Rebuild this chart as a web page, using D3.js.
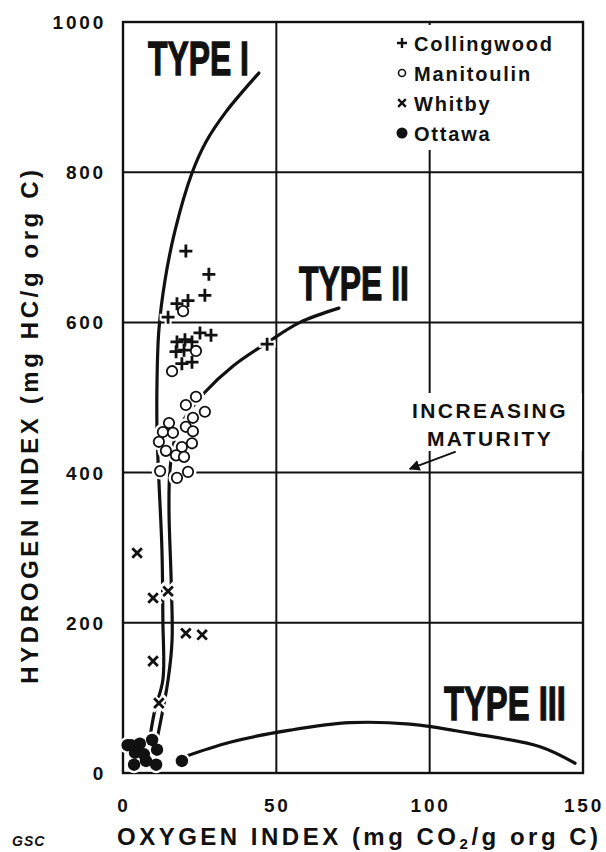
<!DOCTYPE html>
<html><head><meta charset="utf-8">
<script src="https://cdn.jsdelivr.net/npm/d3@7"></script>
<style>
html,body{margin:0;padding:0;background:#fff;}
svg{display:block;font-family:"Liberation Sans",Arial,Helvetica,sans-serif;}
</style></head><body>
<svg id="chart" width="606" height="852"></svg>
<script>
// Axis ticks
const xTicks = [0, 50, 100, 150];
const yTicks = [0, 200, 400, 600, 800, 1000];

// Samples: oxygen index (OI) and hydrogen index (HI)
const collingwoodOI = [20.5, 28.0, 26.7, 21.2, 17.6, 14.7, 25.1, 28.7, 17.6, 20.2, 22.5, 17.3, 19.9, 19.2, 22.5, 47.0];
const collingwoodHI = [695, 664, 636, 629, 625, 607, 586, 583, 574, 577, 574, 561, 563, 545, 547, 571];

const manitoulinOI = [19.6, 23.8, 16.0, 23.8, 20.5, 26.7, 22.8, 20.5, 22.8, 15.0, 13.0, 16.3, 11.7, 19.2, 22.5, 14.0, 17.3, 19.9, 12.1, 21.2, 17.6];
const manitoulinHI = [615, 562, 535, 501, 490, 481, 473, 461, 455, 466, 454, 453, 441, 434, 439, 429, 423, 421, 402, 401, 393];

const whitbyOI = [4.6, 9.8, 14.7, 20.5, 25.8, 9.8, 11.7];
const whitbyHI = [293, 233, 242, 186, 184, 149, 93];

const ottawaOI = [1.5, 2.6, 5.5, 9.5, 3.9, 6.8, 11.1, 3.6, 7.5, 10.8, 19.2];
const ottawaHI = [37, 37, 39, 44, 27, 25, 31, 11, 16, 11, 16];

// Kerogen evolution paths
const typeIOI = [44.3, 33.5, 27.0, 22.5, 17.0, 13.7, 11.7, 11.1, 11.1, 11.7, 12.7, 13.0, 13.0, 10.4, 8.8];
const typeIHI = [932, 880, 840, 799, 723, 656, 590, 523, 453, 390, 297, 204, 124, 84, 48];

const typeIIOI = [70.4, 57.7, 47.0, 35.9, 26.7, 20.2, 17.0, 15.3, 15.0, 15.7, 16.0, 14.7, 11.4];
const typeIIHI = [619, 600, 573, 542, 507, 473, 446, 403, 350, 257, 177, 124, 51];

const typeIIIOI = [19.6, 34.9, 54.5, 74.0, 93.6, 113.2, 136.0, 147.4];
const typeIIIHI = [21, 41, 57, 67, 65, 53, 35, 13];

const seriesNames = ["Collingwood", "Manitoulin", "Whitby", "Ottawa"];

const svg = d3.select("#chart");
const margin = {left: 123, top: 22, right: 23, bottom: 79};
const W = 606 - margin.left - margin.right;
const H = 852 - margin.top - margin.bottom;
const ink = "#111";

const x = d3.scaleLinear().domain([0, 150]).range([margin.left, margin.left + W]);
const y = d3.scaleLinear().domain([0, 1000]).range([margin.top + H, margin.top]);

// Grid
const grid = svg.append("g").attr("stroke", ink).attr("stroke-width", 2);
grid.selectAll("line.v").data(xTicks.slice(1, -1)).join("line")
  .attr("x1", d => x(d)).attr("x2", d => x(d))
  .attr("y1", y(0)).attr("y2", y(1000));
grid.selectAll("line.h").data(yTicks.slice(1, -1)).join("line")
  .attr("x1", x(0)).attr("x2", x(150))
  .attr("y1", d => y(d)).attr("y2", d => y(d));
svg.append("rect")
  .attr("x", x(0)).attr("y", y(1000))
  .attr("width", x(150) - x(0)).attr("height", y(0) - y(1000))
  .attr("fill", "none").attr("stroke", ink).attr("stroke-width", 2.4);

// Tick labels
const tickFont = {size: 19, weight: 700, spacing: 2.8};
svg.append("g").selectAll("text").data(xTicks).join("text")
  .attr("x", d => x(d) + 1).attr("y", 812)
  .attr("text-anchor", "middle")
  .style("font-size", tickFont.size + "px").style("font-weight", tickFont.weight)
  .style("letter-spacing", tickFont.spacing + "px")
  .attr("fill", ink).text(d => d);
svg.append("g").selectAll("text").data(yTicks).join("text")
  .attr("x", 106).attr("y", d => y(d) + 7)
  .attr("text-anchor", "end")
  .style("font-size", tickFont.size + "px").style("font-weight", tickFont.weight)
  .style("letter-spacing", tickFont.spacing + "px")
  .attr("fill", ink).text(d => d);

// Axis titles
const xt = svg.append("text")
  .attr("x", 117).attr("y", 845)
  .style("font-size", "24px").style("font-weight", 700).style("letter-spacing", "3.5px")
  .attr("fill", ink);
xt.append("tspan").text("OXYGEN INDEX (mg CO");
xt.append("tspan").attr("dy", 4).style("font-size", "15px").text("2");
xt.append("tspan").attr("dy", -4).text("/g org C)");

svg.append("text")
  .attr("transform", "translate(38,425) rotate(-90)")
  .attr("text-anchor", "middle")
  .style("font-size", "24px").style("font-weight", 700).style("letter-spacing", "3.6px")
  .attr("fill", ink).text("HYDROGEN INDEX (mg HC/g org C)");

svg.append("text").attr("x", 12).attr("y", 846)
  .style("font-size", "14px").style("font-style", "italic").style("font-weight", 700)
  .style("letter-spacing", "1px").attr("fill", ink).text("GSC");

// Curves
const line = d3.line().x(d => x(d[0])).y(d => y(d[1])).curve(d3.curveCatmullRom.alpha(0.5));
const curveG = svg.append("g").attr("fill", "none").attr("stroke", ink)
  .attr("stroke-width", 3.2).attr("stroke-linecap", "round");
[[typeIOI, typeIHI], [typeIIOI, typeIIHI], [typeIIIOI, typeIIIHI]].forEach(([ox, hy]) => {
  curveG.append("path").attr("d", line(d3.zip(ox, hy)));
});

// Marker shapes
function drawPlus(g, cx, cy, s, w, col) {
  g.append("path").attr("d", `M${cx - s},${cy}H${cx + s}M${cx},${cy - s}V${cy + s}`)
    .attr("stroke", col).attr("stroke-width", w).attr("fill", "none");
}
function drawCross(g, cx, cy, s, w, col) {
  g.append("path").attr("d", `M${cx - s},${cy - s}L${cx + s},${cy + s}M${cx - s},${cy + s}L${cx + s},${cy - s}`)
    .attr("stroke", col).attr("stroke-width", w).attr("fill", "none");
}
function drawRing(g, cx, cy, r, w, col) {
  g.append("circle").attr("cx", cx).attr("cy", cy).attr("r", r)
    .attr("fill", "#fff").attr("stroke", col).attr("stroke-width", w);
}
function drawDot(g, cx, cy, r, col) {
  g.append("circle").attr("cx", cx).attr("cy", cy).attr("r", r).attr("fill", col);
}

const markers = svg.append("g");
// white halos first so the curves break around each symbol
const halo = markers.append("g");
const marks = markers.append("g");
d3.zip(collingwoodOI, collingwoodHI).forEach(([a, b]) => {
  drawPlus(halo, x(a), y(b), 8.5, 7, "#fff");
});
d3.zip(manitoulinOI, manitoulinHI).forEach(([a, b]) => {
  drawDot(halo, x(a), y(b), 8.5, "#fff");
});
d3.zip(whitbyOI, whitbyHI).forEach(([a, b]) => {
  drawCross(halo, x(a), y(b), 7, 7, "#fff");
});
d3.zip(ottawaOI, ottawaHI).forEach(([a, b]) => {
  drawDot(halo, x(a), y(b), 8.5, "#fff");
});
d3.zip(collingwoodOI, collingwoodHI).forEach(([a, b]) => {
  drawPlus(marks, x(a), y(b), 6.5, 2.8, ink);
});
d3.zip(manitoulinOI, manitoulinHI).forEach(([a, b]) => {
  drawRing(marks, x(a), y(b), 5.2, 1.8, ink);
});
d3.zip(whitbyOI, whitbyHI).forEach(([a, b]) => {
  drawCross(marks, x(a), y(b), 4.8, 2.8, ink);
});
d3.zip(ottawaOI, ottawaHI).forEach(([a, b]) => {
  drawDot(marks, x(a), y(b), 6.2, ink);
});

// Legend
const lg = svg.append("g");
lg.append("rect").attr("x", 385).attr("y", 25).attr("width", 195).attr("height", 125).attr("fill", "#fff");
const legendY = [43, 73, 103, 133];
drawPlus(lg, 402, legendY[0], 5, 2.4, ink);
drawRing(lg, 402, legendY[1], 3.5, 1.6, ink);
drawCross(lg, 402, legendY[2], 3.8, 2.4, ink);
drawDot(lg, 402, legendY[3], 5.5, ink);
lg.selectAll("text").data(seriesNames).join("text")
  .attr("x", 414).attr("y", (d, i) => legendY[i] + 7.5)
  .style("font-size", "20px").style("font-weight", 700).style("letter-spacing", "1.8px")
  .attr("fill", ink).text(d => d);

// Kerogen type labels: heavy lettering squeezed horizontally to a set width
function typeLabel(txt, px, py, len) {
  const t = svg.append("text")
    .style("font-size", "48px").style("font-weight", 700)
    .attr("stroke", ink).attr("stroke-width", 1.3)
    .attr("fill", ink).text(txt);
  const natural = t.node().getComputedTextLength();
  t.attr("transform", `translate(${px},${py}) scale(${len / natural},1)`);
}
typeLabel("TYPE I", 148, 75, 101);
typeLabel("TYPE II", 299, 300, 110);
typeLabel("TYPE III", 444, 720, 122);

// Maturity annotation
const ann = svg.append("g");
ann.append("rect").attr("x", 396).attr("y", 393).attr("width", 186).attr("height", 58).attr("fill", "#fff");
ann.selectAll("text").data(["INCREASING", "MATURITY"]).join("text")
  .attr("x", 490).attr("y", (d, i) => 418 + i * 28).attr("text-anchor", "middle")
  .style("font-size", "21px").style("font-weight", 700).style("letter-spacing", "2.4px")
  .attr("fill", ink).text(d => d);
svg.append("defs").append("marker").attr("id", "arrow")
  .attr("viewBox", "0 0 10 10").attr("refX", 9).attr("refY", 5)
  .attr("markerWidth", 5.5).attr("markerHeight", 5.5).attr("orient", "auto")
  .append("path").attr("d", "M0,0L10,5L0,10z").attr("fill", ink);
ann.append("line")
  .attr("x1", x(108.5)).attr("y1", y(428)).attr("x2", x(93.5)).attr("y2", y(405))
  .attr("stroke", ink).attr("stroke-width", 2).attr("marker-end", "url(#arrow)");
</script>
</body></html>
